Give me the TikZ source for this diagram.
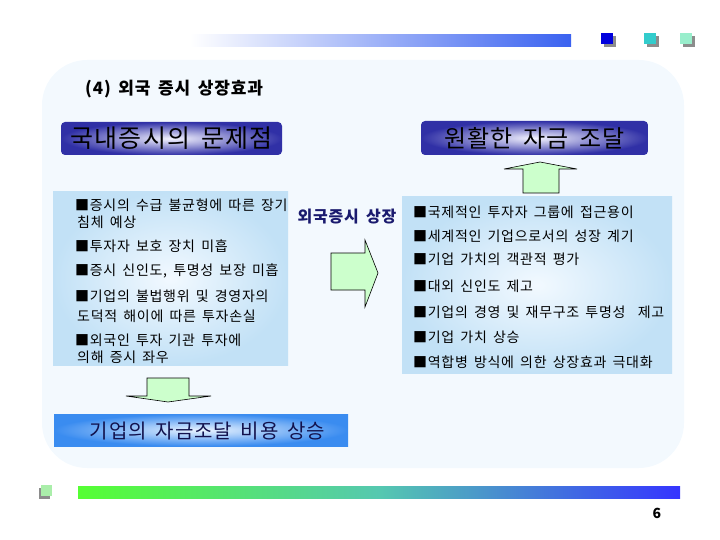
\documentclass[tikz,border=0pt]{standalone}
\usepackage{fontspec}
\setmainfont{Noto Sans CJK KR}[LetterSpace=5, WordSpace=1.6]
\usepackage{tikz}
\usetikzlibrary{calc}
\usepackage{xcolor}
\definecolor{pagebg}{HTML}{F3F9FE}
\definecolor{hdrdark}{HTML}{3030A6}
\definecolor{hdrlight}{HTML}{F4F4FF}
\definecolor{listedge}{HTML}{C2E1F6}
\definecolor{listmid}{HTML}{F2F9FF}
\definecolor{costedge}{HTML}{3A8CF0}
\definecolor{costmid}{HTML}{EAF4FF}
\definecolor{arrowfill}{HTML}{CCFFCC}
\definecolor{navytext}{HTML}{1A1A6E}
\definecolor{barblue}{HTML}{3A62F0}
\definecolor{bargreen}{HTML}{55FF33}
\definecolor{barteal}{HTML}{55C8B0}
\definecolor{barindigo}{HTML}{3535FF}
\definecolor{sqblue}{HTML}{0000DD}
\definecolor{sqteal}{HTML}{33CCCC}
\definecolor{sqmint}{HTML}{99EECC}
\definecolor{sqgreen}{HTML}{AAEEAA}

\begin{document}
\begin{tikzpicture}[x=1pt, y=-1pt, every node/.style={inner sep=0pt},
  headbox/.style={rounded corners=4pt, inner color=hdrlight, outer color=hdrdark,
    font=\fontsize{24}{26}\selectfont},
  listbox/.style={inner color=listmid, outer color=listedge},
  itemtext/.style={anchor=west, font=\fontsize{14}{16}\selectfont},
  blockarrow/.style={draw=black, fill=arrowfill, line width=0.6pt, line join=miter}]
  \useasboundingbox (0,0) rectangle (720,540);

  % top decoration
  \shade[left color=white, right color=barblue] (190,35) rectangle (571,47);
  \foreach \x/\c in {601/sqblue, 644/sqteal, 680/sqmint} {
    \fill[gray!90] (\x+3,36) rectangle ++(12,11);
    \fill[\c] (\x,33) rectangle ++(12,11);
  }

  % slide panel
  \fill[pagebg, rounded corners=45pt] (42,60) rectangle (684,468);
  \node[anchor=west, font=\bfseries\fontsize{17}{19}\selectfont] (title) at (85,89) {(4) 외국 증시 상장효과};

  % headers
  \node[headbox, minimum width=221, minimum height=33, font=\fontsize{25}{27}\selectfont] (probhead) at (171.5,138.5) {국내증시의 문제점};
  \node[headbox, minimum width=227, minimum height=34] (fundhead) at (534.5,138) {원활한 자금 조달};

  % problem list
  \node[listbox, minimum width=235, minimum height=173] (probbox) at (170.5,278.5) {};
  \foreach \n/\yy/\xx/\txt in {1/205/75/{■증시의 수급 불균형에 따른 장기},
      2/222/77/{침체 예상},
      3/246/75/{■투자자 보호 장치 미흡},
      4/271/75/{■증시 신인도, 투명성 보장 미흡},
      5/296/75/{■기업의 불법행위 및 경영자의},
      6/316/77/{도덕적 해이에 따른 투자손실},
      7/340/75/{■외국인 투자 기관 투자에},
      8/357/77/{의해 증시 좌우}}
    \node[itemtext] (p\n) at (\xx,\yy) {\txt};

  % effect list
  \node[listbox, minimum width=270, minimum height=176] (fundbox) at (537,285) {};
  \foreach \n/\yy/\txt in {1/212/{■국제적인 투자자 그룹에 접근용이},
      2/236/{■세계적인 기업으로서의 성장 계기},
      3/259/{■기업 가치의 객관적 평가},
      4/286/{■대외 신인도 제고},
      5/312/{■기업의 경영 및 재무구조 투명성~ 제고},
      6/337/{■기업 가치 상승},
      7/362/{■역합병 방식에 의한 상장효과 극대화}}
    \node[itemtext] (f\n) at (413,\yy) {\txt};

  % listing arrow
  \node[font=\bfseries\fontsize{16}{18}\selectfont, text=navytext] (listing) at (347,217) {외국증시 상장};
  \draw[blockarrow] (331,253) -- (365,253) -- (365,240) -- (378,273) -- (365,307)
    -- (365,290) -- (331,290) -- cycle;

  % up and down arrows
  \draw[blockarrow] (523,193) -- (523,169) -- (504,169) -- (540,162) -- (577,169)
    -- (559,169) -- (559,193) -- cycle;
  \draw[blockarrow] (147,378) -- (189,378) -- (189,396) -- (211,396) -- (168,402)
    -- (126,396) -- (147,396) -- cycle;

  % cost box
  \node[inner color=costmid, outer color=costedge, minimum width=294, minimum height=32] (costbox) at (201,430) {};
  \node[font=\fontsize{20}{22}\selectfont, text=navytext!70!black] (costtext) at (207.5,431) {기업의 자금조달 비용 상승};

  % bottom decoration
  \fill[gray!90] (39,488) rectangle ++(11,11);
  \fill[sqgreen] (41,485) rectangle ++(11,11);
  \shade[left color=bargreen, right color=barindigo, middle color=barteal] (78,486) rectangle (680,498);
  \node[font=\bfseries\fontsize{14}{16}\selectfont] (pgno) at (657,513) {6};
\end{tikzpicture}
\end{document}
